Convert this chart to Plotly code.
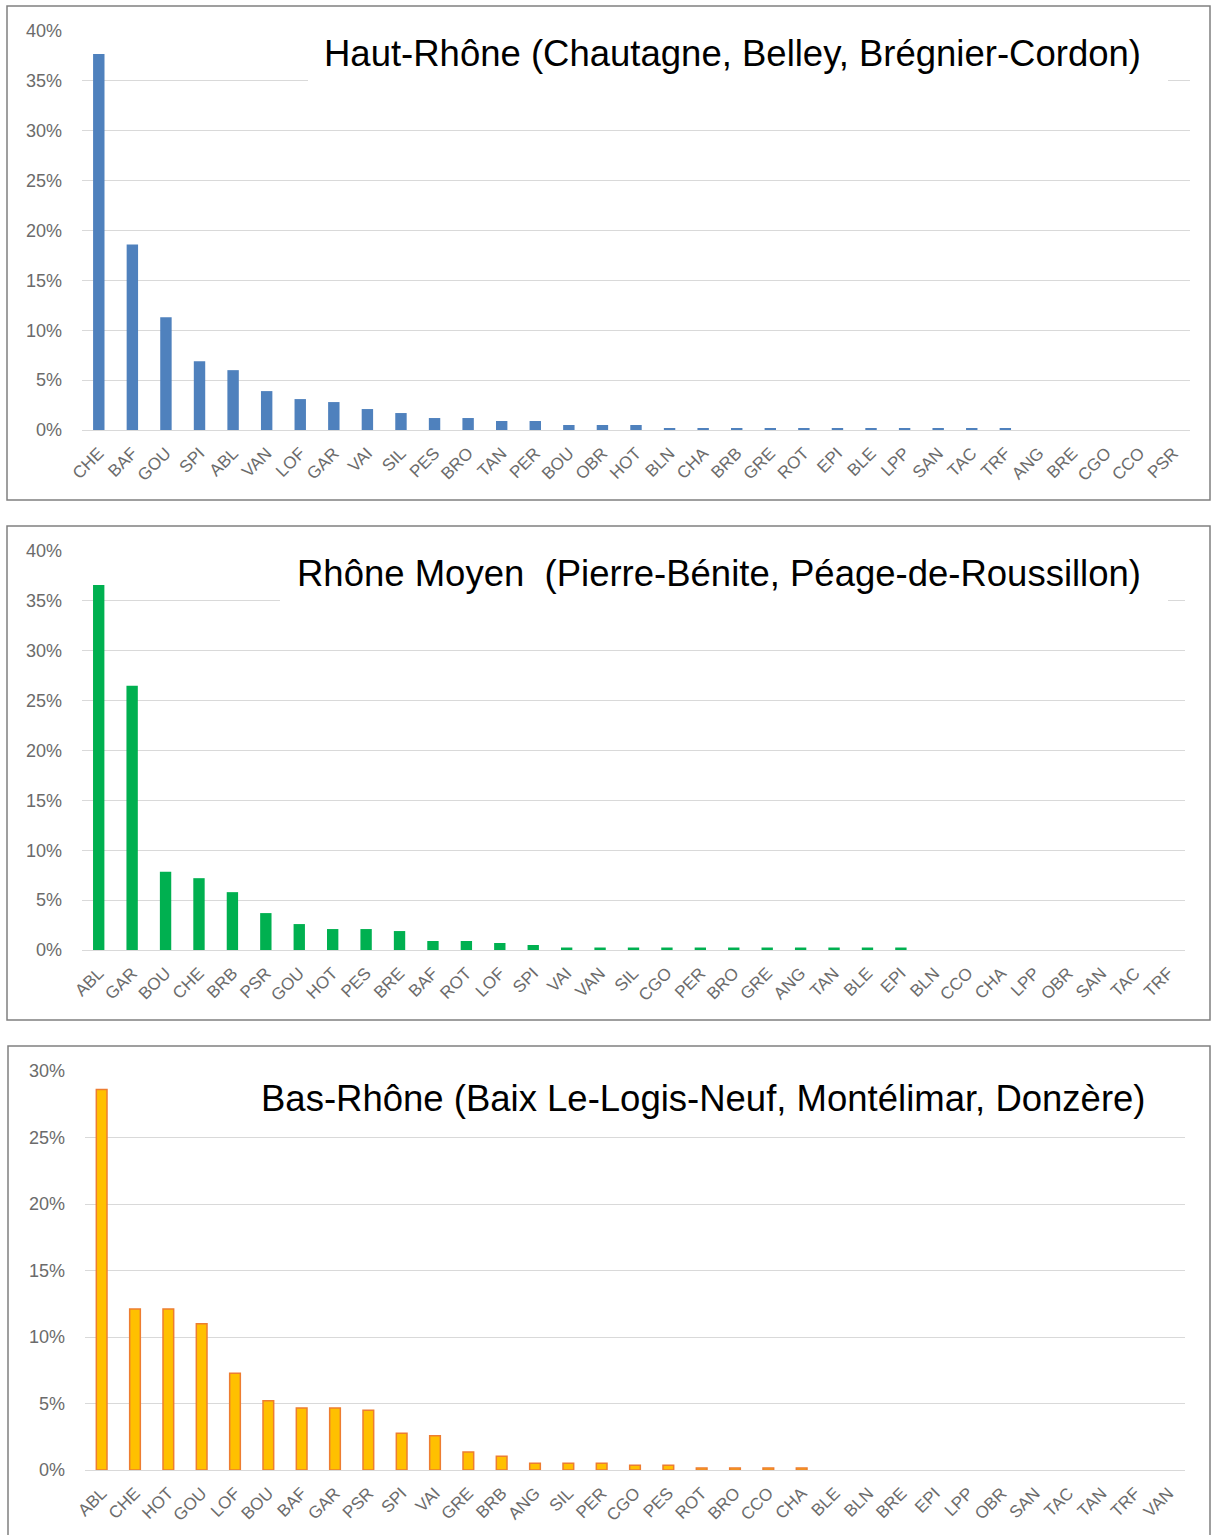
import plotly.graph_objects as go

# ---------------- data ----------------
cats_haut = ["CHE", "BAF", "GOU", "SPI", "ABL", "VAN", "LOF", "GAR", "VAI", "SIL", "PES",
             "BRO", "TAN", "PER", "BOU", "OBR", "HOT", "BLN", "CHA", "BRB", "GRE", "ROT",
             "EPI", "BLE", "LPP", "SAN", "TAC", "TRF", "ANG", "BRE", "CGO", "CCO", "PSR"]
vals_haut = [37.7, 18.6, 11.3, 6.9, 6.0, 3.9, 3.1, 2.8, 2.1, 1.7, 1.2,
             1.2, 0.9, 0.9, 0.5, 0.5, 0.5, 0.2, 0.2, 0.2, 0.2, 0.2,
             0.2, 0.2, 0.2, 0.2, 0.2, 0.2, 0, 0, 0, 0, 0]

cats_moyen = ["ABL", "GAR", "BOU", "CHE", "BRB", "PSR", "GOU", "HOT", "PES", "BRE", "BAF",
              "ROT", "LOF", "SPI", "VAI", "VAN", "SIL", "CGO", "PER", "BRO", "GRE", "ANG",
              "TAN", "BLE", "EPI", "BLN", "CCO", "CHA", "LPP", "OBR", "SAN", "TAC", "TRF"]
vals_moyen = [36.6, 26.5, 7.85, 7.2, 5.8, 3.7, 2.6, 2.1, 2.1, 1.9, 0.9,
              0.9, 0.7, 0.5, 0.25, 0.25, 0.25, 0.25, 0.25, 0.25, 0.25, 0.25,
              0.25, 0.25, 0.25, 0, 0, 0, 0, 0, 0, 0, 0]

cats_bas = ["ABL", "CHE", "HOT", "GOU", "LOF", "BOU", "BAF", "GAR", "PSR", "SPI", "VAI",
            "GRE", "BRB", "ANG", "SIL", "PER", "CGO", "PES", "ROT", "BRO", "CCO", "CHA",
            "BLE", "BLN", "BRE", "EPI", "LPP", "OBR", "SAN", "TAC", "TAN", "TRF", "VAN"]
vals_bas = [28.6, 12.1, 12.1, 11.0, 7.27, 5.2, 4.66, 4.66, 4.5, 2.76, 2.58,
            1.35, 1.03, 0.5, 0.5, 0.5, 0.35, 0.35, 0.15, 0.15, 0.15, 0.15,
            0, 0, 0, 0, 0, 0, 0, 0, 0, 0, 0]

titles = ["Haut-Rhône (Chautagne, Belley, Brégnier-Cordon)",
          "Rhône Moyen  (Pierre-Bénite, Péage-de-Roussillon)",
          "Bas-Rhône (Baix Le-Logis-Neuf, Montélimar, Donzère)"]

# ---------------- layout geometry (pixels) ----------------
W, H = 1212, 1535
def px(x):
    return x / W
def py(y):
    return 1 - y / H

panels = [
    dict(cats=cats_haut, vals=vals_haut, fill="#4F81BD", line="#4F81BD", lw=0,
         x0=82, x1=1190, ytop=31, ybot=430, ymax=40,
         border=(7, 6, 1210, 500), tbox=(308, 20, 1168, 83), tx=1143, ty=53),
    dict(cats=cats_moyen, vals=vals_moyen, fill="#00B050", line="#00B050", lw=0,
         x0=82, x1=1185, ytop=551, ybot=950, ymax=40,
         border=(7, 526, 1210, 1020), tbox=(280, 540, 1168, 603), tx=1143, ty=573),
    dict(cats=cats_bas, vals=vals_bas, fill="#FFC000", line="#ED7D31", lw=1.5,
         x0=85, x1=1185, ytop=1071, ybot=1470, ymax=30,
         border=(8, 1046, 1210, 1542), tbox=(244, 1058, 1172, 1130), tx=1148, ty=1098),
]

fig = go.Figure()
shapes = []
annotations = []
xtickfont = dict(family="Liberation Sans, Arial, sans-serif", size=17, color="#6b6b6b")
ytickfont = dict(family="Liberation Sans, Arial, sans-serif", size=18, color="#6b6b6b")

for i, p in enumerate(panels):
    n = "" if i == 0 else str(i + 1)
    line_widths = [p["lw"] if v > 0 else 0 for v in p["vals"]]
    fig.add_trace(go.Bar(
        x=p["cats"], y=p["vals"], xaxis="x" + n, yaxis="y" + n,
        width=0.34 if i < 2 else 0.32,
        marker=dict(color=p["fill"], line=dict(color=p["line"], width=line_widths)),
        showlegend=False,
    ))
    fig.update_layout(**{
        "xaxis" + n: dict(
            domain=[px(p["x0"]), px(p["x1"])], anchor="y" + n,
            type="category", categoryorder="array", categoryarray=p["cats"],
            tickangle=-45, tickfont=xtickfont, showgrid=False, showline=False,
            ticks="", automargin=False, ticklabelstandoff=9,
        ),
        "yaxis" + n: dict(
            domain=[py(p["ybot"]), py(p["ytop"])], anchor="x" + n,
            range=[0, p["ymax"]], dtick=5, ticksuffix="%",
            tickfont=ytickfont, showgrid=True, gridcolor="#D9D9D9", gridwidth=1.2,
            zeroline=True, zerolinecolor="#D9D9D9", zerolinewidth=1.2,
            showline=False, ticks="", ticklabelstandoff=19, automargin=False,
        ),
    })
    bx0, by0, bx1, by1 = p["border"]
    shapes.append(dict(type="rect", xref="paper", yref="paper",
                       x0=px(bx0), y0=py(by0), x1=px(bx1), y1=py(by1),
                       line=dict(color="#808080", width=1.5), layer="above"))
    tx0, ty0, tx1, ty1 = p["tbox"]
    shapes.append(dict(type="rect", xref="paper", yref="paper",
                       x0=px(tx0), y0=py(ty0), x1=px(tx1), y1=py(ty1),
                       line=dict(width=0), fillcolor="white", layer="above"))
    annotations.append(dict(text=titles[i], xref="paper", yref="paper",
                            x=px(p["tx"]), y=py(p["ty"]), xanchor="right", yanchor="middle",
                            showarrow=False,
                            font=dict(family="Liberation Sans, Arial, sans-serif", size=36.5,
                                      color="black")))

fig.update_layout(
    width=W, height=H, autosize=False,
    margin=dict(l=0, r=0, t=0, b=0),
    paper_bgcolor="white", plot_bgcolor="white",
    shapes=shapes, annotations=annotations,
)

fig.write_html("out.html",
               config={"displayModeBar": False},
               post_script="document.body.style.margin='0';document.body.style.overflow='hidden';")
